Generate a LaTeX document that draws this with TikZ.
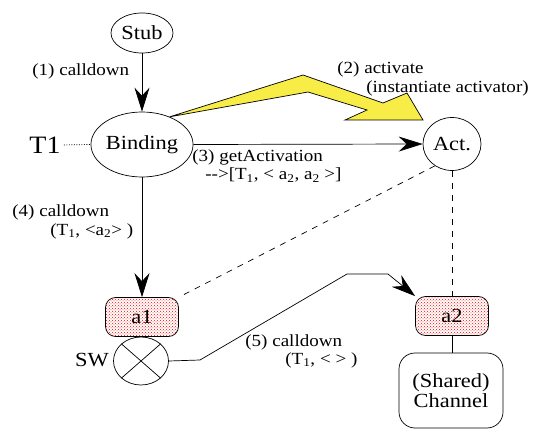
\documentclass[tikz,border=0pt]{standalone}
\usepackage{fontspec}
\setmainfont[FakeStretch=1.12]{Liberation Serif}
\usetikzlibrary{arrows.meta,shapes.geometric,patterns}
\definecolor{actyellow}{RGB}{248,236,70}

\begin{document}
\begin{tikzpicture}[x=1pt,y=-1pt,
  line width=0.7pt,
  every node/.style={inner sep=0pt},
  oval/.style={draw, ellipse, font=\fontsize{20}{24}\selectfont},
  agent/.style={draw, rounded corners=10pt, minimum width=73pt, minimum height=39pt,
    pattern=crosshatch dots, pattern color=red, font=\fontsize{20}{24}\selectfont},
  lbl/.style={anchor=west, font=\fontsize{17}{20}\selectfont},
  flow/.style={-{Stealth[length=24pt,width=15pt,inset=8pt]}},
  link/.style={dash pattern=on 6pt off 6pt},
]
\useasboundingbox (0,0) rectangle (533,430);

% components
\node[oval, minimum width=62pt, minimum height=40pt] (stub) at (142,33) {Stub};
\node[oval, minimum width=92pt, minimum height=65pt] (binding) at (142,144.5) {Binding};
\node[oval, minimum width=58pt, minimum height=53pt] (act) at (452,144) {Act.};
\node[agent] (a1) at (142,317) {a1};
\node[agent] (a2) at (452,316) {a2};
\node[draw, ellipse, minimum width=55pt, minimum height=48pt] (sw) at (141,361) {};
\draw (sw.north west) -- (sw.south east) (sw.north east) -- (sw.south west);
\node[draw, rounded corners=16pt, minimum width=104pt, minimum height=75pt,
  align=center, font=\fontsize{20}{20}\selectfont] (chan) at (451,390.5) {(Shared)\\Channel};

\node[font=\fontsize{25}{30}\selectfont] (t1) at (45,145) {T1};
\node[anchor=east, font=\fontsize{20}{24}\selectfont] (swl) at (109,360) {SW};

% activation arrow
\draw[fill=actyellow] (binding.45) -- (303,75) -- (383,103) -- (407,93) -- (423,120)
  -- (345,120) -- (367,110) -- (308,92) -- cycle;

% connectors
\draw[dash pattern=on 1pt off 1.5pt, shorten <=3pt] (t1.east) -- (binding.west);
\draw[flow] (stub.south) -- (binding.north);
\draw[flow] (binding.east) -- (act.west);
\draw[flow] (binding.south) -- (a1.north);
\draw[link] (act.232) -- (a1.north east);
\draw[link] (act.south) -- (a2.north);
\draw (a2.south) -- (a2.south |- chan.north);
\coordinate (k1) at (200,360);
\coordinate (k2) at (347,274);
\coordinate (k3) at (388,274);
\draw[flow] (sw.east) -- (k1) -- (k2) -- (k3) -- (a2.north west);

% labels
\node[lbl] (l1) at (32,71) {(1) calldown};
\node[lbl] (l2a) at (337,69) {(2) activate};
\node[lbl] (l2b) at (366,88) {(instantiate activator)};
\node[lbl] (l3a) at (192,157) {(3) getActivation};
\node[lbl] (l3b) at (205,175) {{-}{-}>[T\textsubscript{1}, < a\textsubscript{2}, a\textsubscript{2} >]};
\node[lbl] (l4a) at (12,212) {(4) calldown};
\node[lbl] (l4b) at (50,231) {(T\textsubscript{1}, <a\textsubscript{2}> )};
\node[lbl] (l5a) at (245,342) {(5) calldown};
\node[lbl] (l5b) at (285,360) {(T\textsubscript{1}, < > )};
\end{tikzpicture}
\end{document}
